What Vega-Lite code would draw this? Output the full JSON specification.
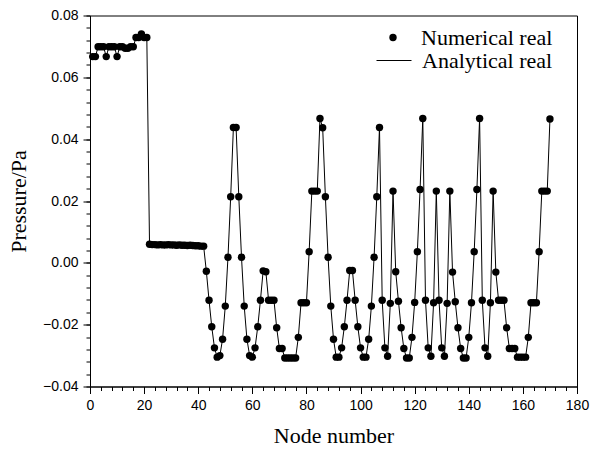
{
  "$schema": "https://vega.github.io/schema/vega-lite/v6.json",
  "autosize": {"type": "none"},
  "padding": {"left": 90, "top": 15.5, "right": 23, "bottom": 64.5},
  "width": 487,
  "height": 371,
  "background": "white",
  "config": {
    "view": {"stroke": "black", "strokeWidth": 1},
    "axis": {"grid": false, "domainColor": "black", "tickColor": "black", "labelColor": "black", "titleColor": "black", "labelFont": "Liberation Sans", "labelFontSize": 14, "titleFont": "Liberation Serif", "titleFontSize": 22, "titleFontWeight": "normal", "tickWidth": 1, "domainWidth": 1}
  },
  "data": {"values": [
    {"node": 1, "p": 0.0667}, {"node": 2, "p": 0.0667}, {"node": 3, "p": 0.0699}, {"node": 4, "p": 0.0699}, {"node": 5, "p": 0.0699},
    {"node": 6, "p": 0.0667}, {"node": 7, "p": 0.0699}, {"node": 8, "p": 0.0699}, {"node": 9, "p": 0.0699}, {"node": 10, "p": 0.0667},
    {"node": 11, "p": 0.0699}, {"node": 12, "p": 0.0699}, {"node": 13, "p": 0.0694}, {"node": 14, "p": 0.0694}, {"node": 15, "p": 0.0699},
    {"node": 16, "p": 0.0699}, {"node": 17, "p": 0.0729}, {"node": 18, "p": 0.0729}, {"node": 19, "p": 0.0740}, {"node": 20, "p": 0.0729},
    {"node": 21, "p": 0.0729}, {"node": 22, "p": 0.0060}, {"node": 23, "p": 0.0059}, {"node": 24, "p": 0.0059}, {"node": 25, "p": 0.0058},
    {"node": 26, "p": 0.0059}, {"node": 27, "p": 0.0058}, {"node": 28, "p": 0.0058}, {"node": 29, "p": 0.0059}, {"node": 30, "p": 0.0058},
    {"node": 31, "p": 0.0058}, {"node": 32, "p": 0.0057}, {"node": 33, "p": 0.0058}, {"node": 34, "p": 0.0057}, {"node": 35, "p": 0.0057},
    {"node": 36, "p": 0.0056}, {"node": 37, "p": 0.0057}, {"node": 38, "p": 0.0056}, {"node": 39, "p": 0.0055}, {"node": 40, "p": 0.0055},
    {"node": 41, "p": 0.0054}, {"node": 42, "p": 0.0054}, {"node": 43, "p": -0.0027}, {"node": 44, "p": -0.0121}, {"node": 45, "p": -0.0207},
    {"node": 46, "p": -0.0275}, {"node": 47, "p": -0.0305}, {"node": 48, "p": -0.0300}, {"node": 49, "p": -0.0247}, {"node": 50, "p": -0.0140},
    {"node": 51, "p": 0.0018}, {"node": 52, "p": 0.0214}, {"node": 53, "p": 0.0438}, {"node": 54, "p": 0.0438}, {"node": 55, "p": 0.0214},
    {"node": 56, "p": 0.0018}, {"node": 57, "p": -0.0140}, {"node": 58, "p": -0.0247}, {"node": 59, "p": -0.0300}, {"node": 60, "p": -0.0305},
    {"node": 61, "p": -0.0275}, {"node": 62, "p": -0.0207}, {"node": 63, "p": -0.0121}, {"node": 64, "p": -0.0026}, {"node": 65, "p": -0.0029},
    {"node": 66, "p": -0.0121}, {"node": 67, "p": -0.0121}, {"node": 68, "p": -0.0121}, {"node": 69, "p": -0.0210}, {"node": 70, "p": -0.0277},
    {"node": 71, "p": -0.0277}, {"node": 72, "p": -0.0308}, {"node": 73, "p": -0.0308}, {"node": 74, "p": -0.0308}, {"node": 75, "p": -0.0308},
    {"node": 76, "p": -0.0308}, {"node": 77, "p": -0.0241}, {"node": 78, "p": -0.0129}, {"node": 79, "p": -0.0129}, {"node": 80, "p": -0.0129},
    {"node": 81, "p": 0.0036}, {"node": 82, "p": 0.0232}, {"node": 83, "p": 0.0232}, {"node": 84, "p": 0.0232}, {"node": 85, "p": 0.0467},
    {"node": 86, "p": 0.0437}, {"node": 87, "p": 0.0214}, {"node": 88, "p": 0.0018}, {"node": 89, "p": -0.0140}, {"node": 90, "p": -0.0247},
    {"node": 91, "p": -0.0305}, {"node": 92, "p": -0.0305}, {"node": 93, "p": -0.0275}, {"node": 94, "p": -0.0207}, {"node": 95, "p": -0.0121},
    {"node": 96, "p": -0.0025}, {"node": 97, "p": -0.0025}, {"node": 98, "p": -0.0121}, {"node": 99, "p": -0.0207}, {"node": 100, "p": -0.0275},
    {"node": 101, "p": -0.0305}, {"node": 102, "p": -0.0305}, {"node": 103, "p": -0.0247}, {"node": 104, "p": -0.0140}, {"node": 105, "p": 0.0018},
    {"node": 106, "p": 0.0214}, {"node": 107, "p": 0.0438}, {"node": 108, "p": -0.0121}, {"node": 109, "p": -0.0275}, {"node": 110, "p": -0.0302},
    {"node": 111, "p": -0.0131}, {"node": 112, "p": 0.0232}, {"node": 113, "p": -0.0029}, {"node": 114, "p": -0.0124}, {"node": 115, "p": -0.0210},
    {"node": 116, "p": -0.0277}, {"node": 117, "p": -0.0308}, {"node": 118, "p": -0.0308}, {"node": 119, "p": -0.0241}, {"node": 120, "p": -0.0128},
    {"node": 121, "p": 0.0036}, {"node": 122, "p": 0.0237}, {"node": 123, "p": 0.0467}, {"node": 124, "p": -0.0121}, {"node": 125, "p": -0.0275},
    {"node": 126, "p": -0.0302}, {"node": 127, "p": -0.0129}, {"node": 128, "p": 0.0232}, {"node": 129, "p": -0.0121}, {"node": 130, "p": -0.0275},
    {"node": 131, "p": -0.0302}, {"node": 132, "p": -0.0131}, {"node": 133, "p": 0.0232}, {"node": 134, "p": -0.0030}, {"node": 135, "p": -0.0126},
    {"node": 136, "p": -0.0210}, {"node": 137, "p": -0.0277}, {"node": 138, "p": -0.0308}, {"node": 139, "p": -0.0308}, {"node": 140, "p": -0.0241},
    {"node": 141, "p": -0.0129}, {"node": 142, "p": 0.0036}, {"node": 143, "p": 0.0237}, {"node": 144, "p": 0.0467}, {"node": 145, "p": -0.0121},
    {"node": 146, "p": -0.0275}, {"node": 147, "p": -0.0302}, {"node": 148, "p": -0.0129}, {"node": 149, "p": 0.0232}, {"node": 150, "p": -0.0030},
    {"node": 151, "p": -0.0121}, {"node": 152, "p": -0.0121}, {"node": 153, "p": -0.0121}, {"node": 154, "p": -0.0210}, {"node": 155, "p": -0.0277},
    {"node": 156, "p": -0.0277}, {"node": 157, "p": -0.0277}, {"node": 158, "p": -0.0305}, {"node": 159, "p": -0.0305}, {"node": 160, "p": -0.0305},
    {"node": 161, "p": -0.0305}, {"node": 162, "p": -0.0241}, {"node": 163, "p": -0.0129}, {"node": 164, "p": -0.0129}, {"node": 165, "p": -0.0129},
    {"node": 166, "p": 0.0036}, {"node": 167, "p": 0.0232}, {"node": 168, "p": 0.0232}, {"node": 169, "p": 0.0232}, {"node": 170, "p": 0.0465}
  ]},
  "resolve": {"axis": {"x": "independent", "y": "independent"}},
  "layer": [
    {
      "mark": {"type": "line", "strokeWidth": 1},
      "encoding": {
        "x": {"field": "node", "type": "quantitative", "scale": {"domain": [0, 180], "nice": false, "zero": false},
          "axis": {"orient": "bottom", "values": [0, 20, 40, 60, 80, 100, 120, 140, 160, 180], "tickSize": 7, "labelPadding": 5, "labelFlush": false, "labelOverlap": false, "title": "Node number", "titlePadding": 13}},
        "y": {"field": "p", "type": "quantitative", "scale": {"domain": [-0.04, 0.08], "nice": false, "zero": false},
          "axis": {"orient": "left", "values": [-0.04, -0.02, 0, 0.02, 0.04, 0.06, 0.08], "format": ".2f", "tickSize": 7, "labelPadding": 5, "labelFlush": false, "labelOverlap": false, "title": "Pressure/Pa", "titlePadding": 12}},
        "color": {"datum": "Analytical real", "type": "nominal", "scale": {"range": ["black"]},
          "legend": {"orient": "none", "legendX": 286, "legendY": 27, "title": null, "padding": 0, "labelFont": "Liberation Serif", "labelFontSize": 22, "labelColor": "black", "labelOffset": 10, "symbolType": "stroke", "symbolSize": 1225, "symbolStrokeWidth": 1, "symbolStrokeColor": "black"}}
      }
    },
    {
      "mark": {"type": "point", "filled": true, "size": 55, "opacity": 1, "color": "black"},
      "encoding": {
        "x": {"field": "node", "type": "quantitative",
          "axis": {"orient": "bottom", "values": [0, 4, 8, 12, 16, 20, 24, 28, 32, 36, 40, 44, 48, 52, 56, 60, 64, 68, 72, 76, 80, 84, 88, 92, 96, 100, 104, 108, 112, 116, 120, 124, 128, 132, 136, 140, 144, 148, 152, 156, 160, 164, 168, 172, 176, 180], "tickSize": 4, "labels": false, "domain": false, "title": null}},
        "y": {"field": "p", "type": "quantitative",
          "axis": {"orient": "left", "values": [-0.04, -0.036, -0.032, -0.028, -0.024, -0.02, -0.016, -0.012, -0.008, -0.004, 0, 0.004, 0.008, 0.012, 0.016, 0.02, 0.024, 0.028, 0.032, 0.036, 0.04, 0.044, 0.048, 0.052, 0.056, 0.06, 0.064, 0.068, 0.072, 0.076, 0.08], "tickSize": 4, "labels": false, "domain": false, "title": null}},
        "shape": {"datum": "Numerical real", "type": "nominal", "scale": {"range": ["circle"]},
          "legend": {"orient": "none", "legendX": 292, "legendY": 11, "title": null, "padding": 0, "labelFont": "Liberation Serif", "labelFontSize": 22, "labelColor": "black", "labelOffset": 17, "symbolSize": 55, "symbolFillColor": "black", "symbolStrokeWidth": 0, "symbolOpacity": 1}}
      }
    }
  ]
}
